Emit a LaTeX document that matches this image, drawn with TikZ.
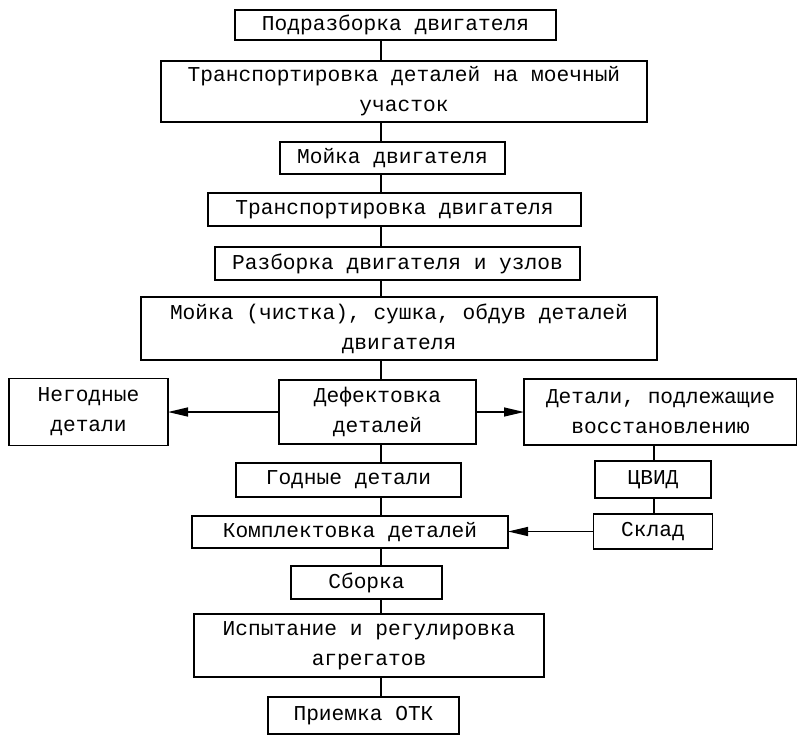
\documentclass[tikz,border=0pt]{standalone}
\usepackage{fontspec}
\setmainfont{Liberation Mono}
\usetikzlibrary{arrows.meta,positioning}

\begin{document}
\begin{tikzpicture}[
x=0.5pt, y=-0.5pt,
node distance= 9.5pt and 24pt,
box/.style = {minimum width=#1,
              draw, line width=0.7pt, outer sep=0pt,
              minimum height=16.5pt, inner sep=1.5pt,
              align=center, font=\fontsize{10.6}{15}\selectfont},
two/.style = {minimum height=31.5pt},
Line/.style = {line width=0.7pt},
Arrow/.style = {line width=0.7pt,
                -{Triangle[length=10pt,width=4.5pt]}},
                    ]
\useasboundingbox (0,0) rectangle (797,735);
\coordinate (trunk) at (381,0);
\coordinate (side)  at (654,0);

\node[box=160.5pt, minimum height=15pt] (a) at (395.5,25) {Подразборка двигателя};
\node[box=243pt, two, minimum height=30.5pt,
      below=10.5pt of a, xshift=4.25pt]     (b) {Транспортировка деталей на моечный\\участок};
\node[box=112.5pt, minimum height=16pt,
      below=10pt of b, xshift=-5.75pt]      (c) {Мойка двигателя};
\node[box=186.5pt, below=of c, xshift=1pt]  (d) {Транспортировка двигателя};
\node[box=182.5pt, below=10.5pt of d, xshift=1.5pt] (e) {Разборка двигателя и узлов};
\node[box=258pt, two,
      below=8.5pt of e, xshift=0.75pt]      (f) {Мойка (чистка), сушка, обдув деталей\\двигателя};

\node[box=98.5pt, two, minimum height=32pt,
      below=10pt of f, xshift=-10.75pt]     (defekt) {Дефектовка\\деталей};
\node[box=79.5pt, two, minimum height=33.5pt,
      left=55.5pt of defekt]                (negod)  {Негодные\\детали};
\node[box=136.5pt, two, minimum height=33pt,
      right=of defekt]                      (vosst)  {Детали, подлежащие\\восстановлению};

\node[box=112.5pt, minimum height=17pt,
      below=of defekt, xshift=-14.5pt]      (godn)   {Годные детали};
\node[box=58pt, minimum height=18.5pt,
      below=8pt of vosst, xshift=-3.75pt]   (cvid)   {ЦВИД};
\node[box=158pt, minimum height=16pt,
      below=of godn, xshift=0.75pt]         (kompl)  {Комплектовка деталей};
\node[box=59.5pt, minimum height=17.5pt,
      below=8pt of cvid]                    (sklad)  {Склад};

\node[box=75.5pt, below=9pt of kompl, xshift=8.25pt] (sborka) {Сборка};
\node[box=175pt, two,
      below=7.5pt of sborka, xshift=1.25pt] (ispyt)  {Испытание и регулировка\\агрегатов};
\node[box=95.5pt, minimum height=18.5pt,
      below=10pt of ispyt, xshift=-2.75pt]  (priem)  {Приемка ОТК};

\draw[Line] (a.south -| trunk) -- (b.north -| trunk);
\draw[Line] (b.south -| trunk) -- (c.north -| trunk);
\draw[Line] (c.south -| trunk) -- (d.north -| trunk);
\draw[Line] (d.south -| trunk) -- (e.north -| trunk);
\draw[Line] (e.south -| trunk) -- (f.north -| trunk);
\draw[Line] (f.south -| trunk) -- (defekt.north -| trunk);
\draw[Line] (defekt.south -| trunk) -- (godn.north -| trunk);
\draw[Line] (godn.south -| trunk) -- (kompl.north -| trunk);
\draw[Line] (kompl.south -| trunk) -- (sborka.north -| trunk);
\draw[Line] (sborka.south -| trunk) -- (ispyt.north -| trunk);
\draw[Line] (ispyt.south -| trunk) -- (priem.north -| trunk);
\draw[Line] (vosst.south -| side) -- (cvid.north -| side);
\draw[Line] (cvid.south -| side) -- (sklad.north -| side);

\draw[Arrow] (defekt.west) -- (negod.east |- defekt.west);
\draw[Arrow] (defekt.east) -- (vosst.west |- defekt.east);
\draw[Arrow] (sklad.west) -- (kompl.east |- sklad.west);
\end{tikzpicture}
\end{document}
